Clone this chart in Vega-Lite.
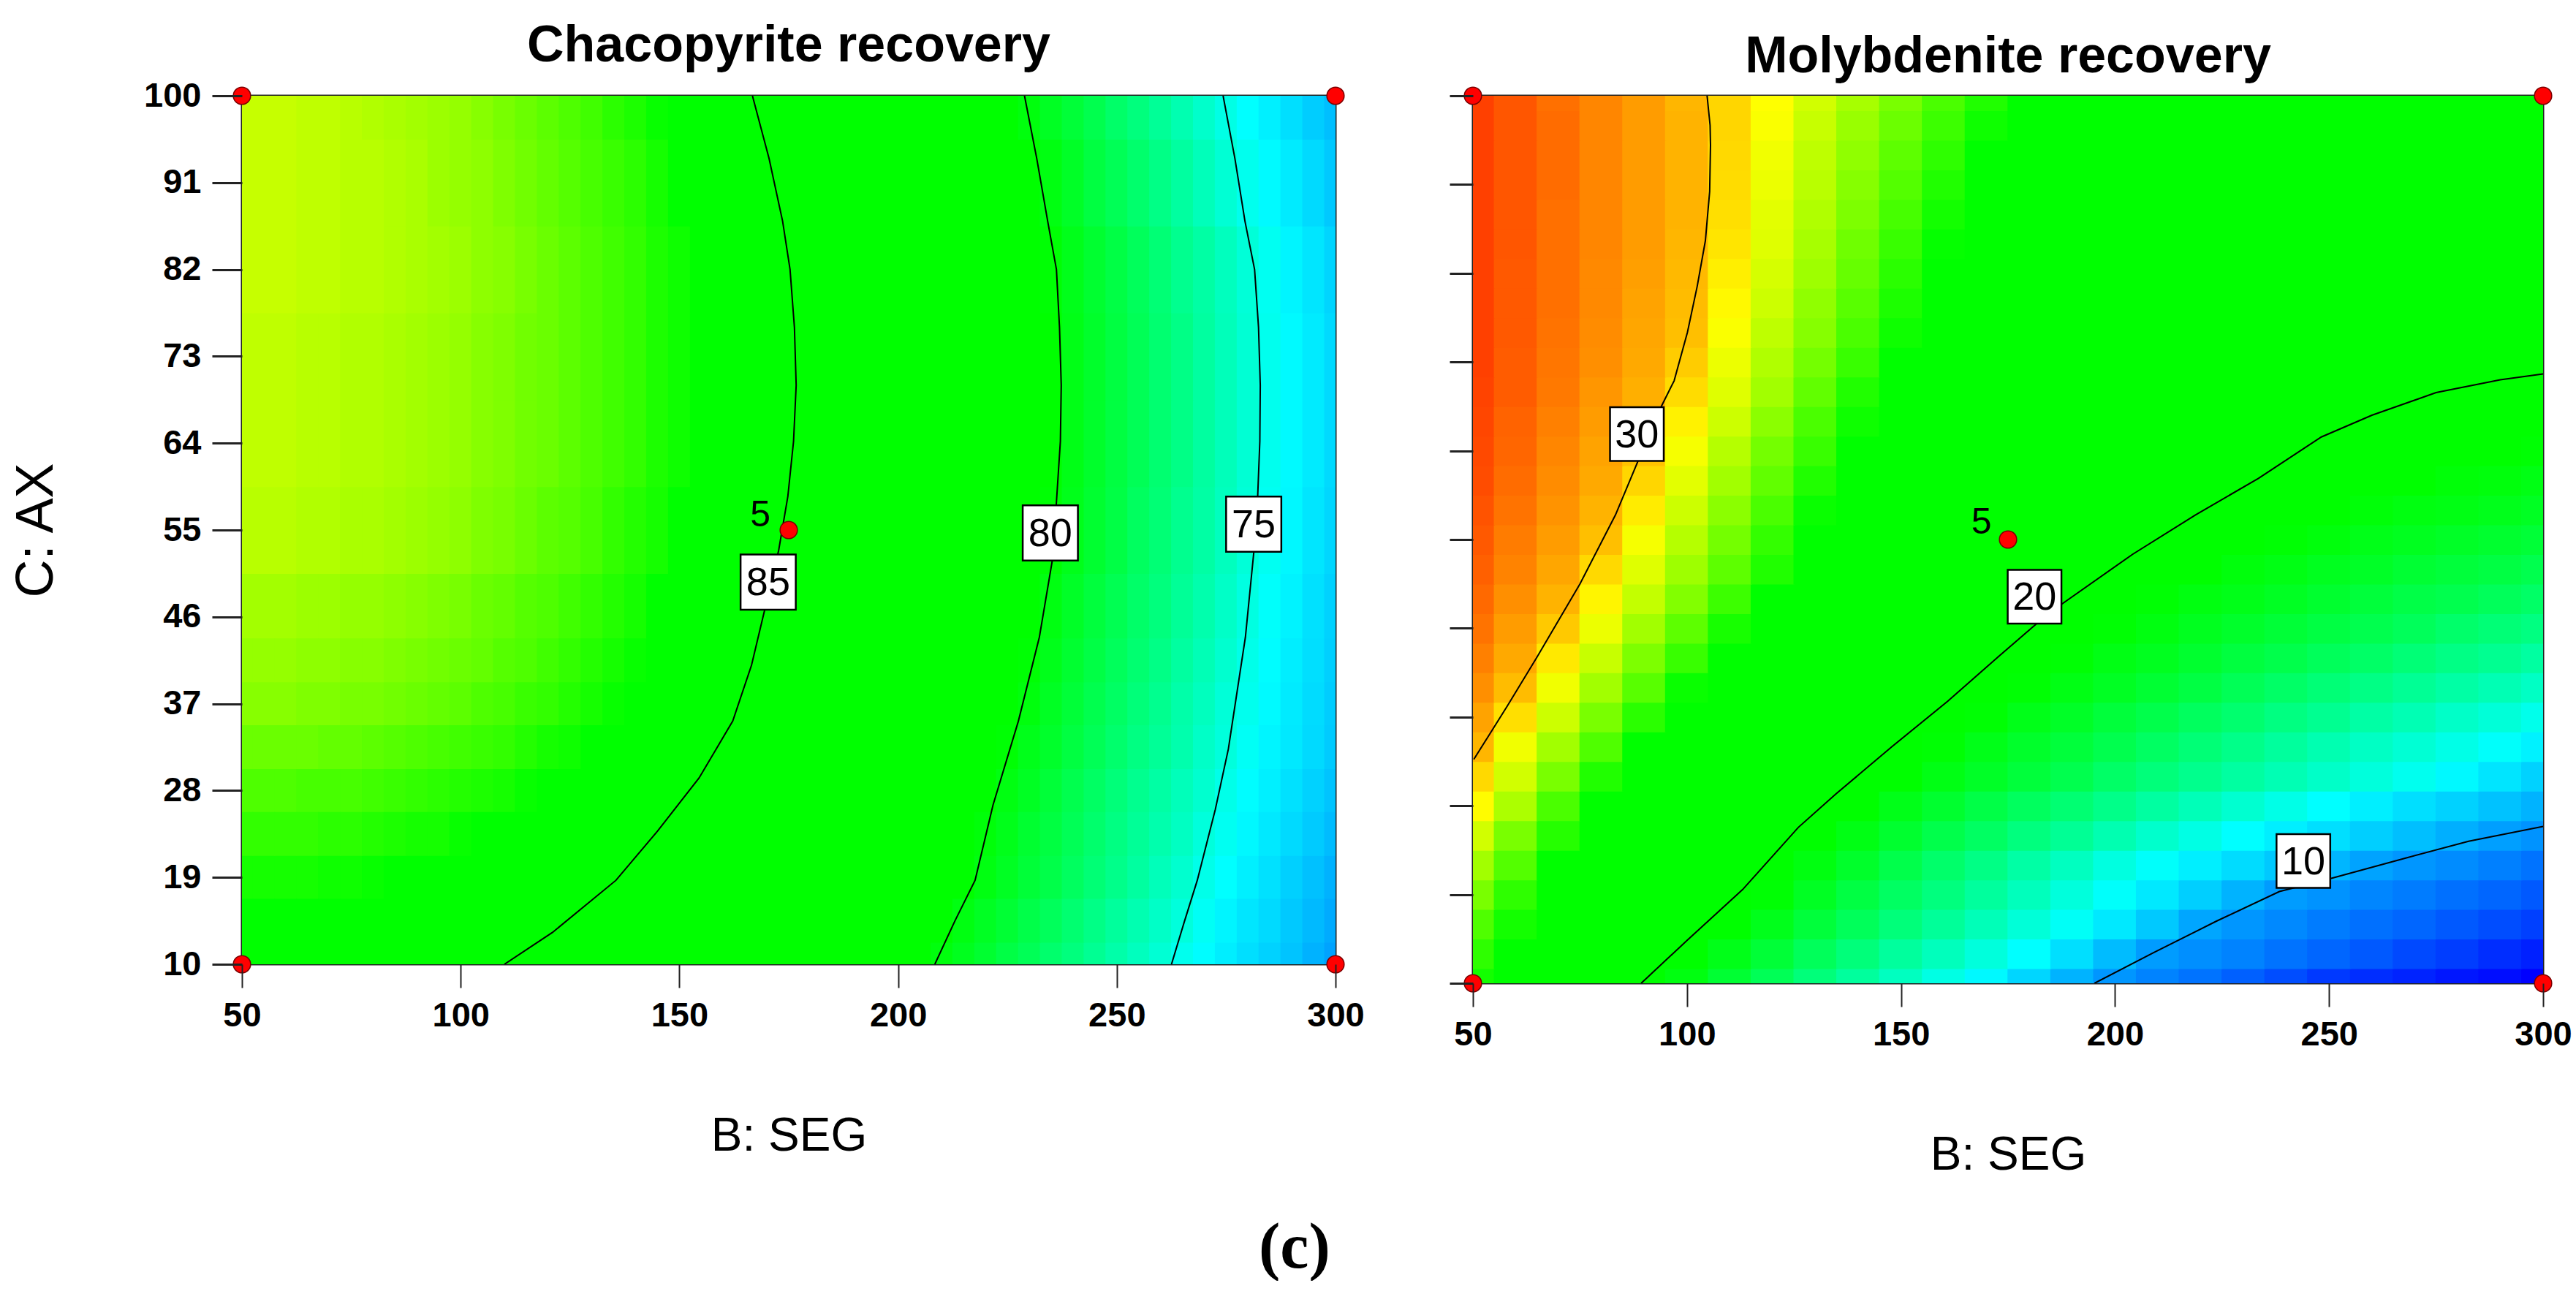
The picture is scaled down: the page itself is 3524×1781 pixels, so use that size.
{
"$schema":"https://vega.github.io/schema/vega-lite/v6.json",
"background":"white",
"padding":{"left":12,"top":26,"right":0,"bottom":0},
"spacing":112,
"resolve":{"scale":{"x":"independent","y":"independent","color":"independent"}},
"title":{"text":"(c)","orient":"bottom","anchor":"middle","font":"Liberation Serif","fontWeight":"bold","fontSize":88,"offset":50,"dx":5,"color":"black"},
"config":{
 "view":{"stroke":"#222","strokeWidth":3},
 "axis":{"grid":false,"domain":false,"labelFont":"Liberation Sans","labelFontWeight":"bold","labelFontSize":47,"labelColor":"black","tickColor":"#222","titleFont":"Liberation Sans","titleFontWeight":"normal","titleColor":"black"},
 "title":{"font":"Liberation Sans","fontWeight":"bold","fontSize":70,"color":"black"}
},
"datasets":{
"L":[
{"b":50,"c":10,"v":85.6},{"b":55,"c":10,"v":85.6},{"b":60,"c":10,"v":85.6},{"b":65,"c":10,"v":85.6},{"b":70,"c":10,"v":85.5},{"b":75,"c":10,"v":85.5},{"b":80,"c":10,"v":85.5},{"b":85,"c":10,"v":85.4},{"b":90,"c":10,"v":85.3},{"b":95,"c":10,"v":85.3},{"b":100,"c":10,"v":85.2},{"b":105,"c":10,"v":85.1},{"b":110,"c":10,"v":85.0},{"b":115,"c":10,"v":84.9},{"b":120,"c":10,"v":84.7},{"b":125,"c":10,"v":84.6},{"b":130,"c":10,"v":84.4},{"b":135,"c":10,"v":84.2},{"b":140,"c":10,"v":84.0},{"b":145,"c":10,"v":83.8},{"b":150,"c":10,"v":83.6},{"b":155,"c":10,"v":83.4},{"b":160,"c":10,"v":83.1},{"b":165,"c":10,"v":82.9},{"b":170,"c":10,"v":82.6},{"b":175,"c":10,"v":82.3},{"b":180,"c":10,"v":82.0},{"b":185,"c":10,"v":81.7},{"b":190,"c":10,"v":81.3},{"b":195,"c":10,"v":81.0},{"b":200,"c":10,"v":80.6},{"b":205,"c":10,"v":80.3},{"b":210,"c":10,"v":79.9},{"b":215,"c":10,"v":79.5},{"b":220,"c":10,"v":79.1},{"b":225,"c":10,"v":78.6},{"b":230,"c":10,"v":78.2},{"b":235,"c":10,"v":77.7},{"b":240,"c":10,"v":77.3},{"b":245,"c":10,"v":76.8},{"b":250,"c":10,"v":76.3},{"b":255,"c":10,"v":75.8},{"b":260,"c":10,"v":75.3},{"b":265,"c":10,"v":74.7},{"b":270,"c":10,"v":74.2},{"b":275,"c":10,"v":73.6},{"b":280,"c":10,"v":73.0},{"b":285,"c":10,"v":72.5},{"b":290,"c":10,"v":71.9},{"b":295,"c":10,"v":71.2},{"b":300,"c":10,"v":70.6},
{"b":50,"c":19,"v":86.6},{"b":55,"c":19,"v":86.6},{"b":60,"c":19,"v":86.6},{"b":65,"c":19,"v":86.6},{"b":70,"c":19,"v":86.5},{"b":75,"c":19,"v":86.5},{"b":80,"c":19,"v":86.4},{"b":85,"c":19,"v":86.3},{"b":90,"c":19,"v":86.3},{"b":95,"c":19,"v":86.2},{"b":100,"c":19,"v":86.1},{"b":105,"c":19,"v":86.0},{"b":110,"c":19,"v":85.8},{"b":115,"c":19,"v":85.7},{"b":120,"c":19,"v":85.5},{"b":125,"c":19,"v":85.4},{"b":130,"c":19,"v":85.2},{"b":135,"c":19,"v":85.0},{"b":140,"c":19,"v":84.9},{"b":145,"c":19,"v":84.6},{"b":150,"c":19,"v":84.4},{"b":155,"c":19,"v":84.2},{"b":160,"c":19,"v":83.9},{"b":165,"c":19,"v":83.7},{"b":170,"c":19,"v":83.4},{"b":175,"c":19,"v":83.1},{"b":180,"c":19,"v":82.8},{"b":185,"c":19,"v":82.5},{"b":190,"c":19,"v":82.1},{"b":195,"c":19,"v":81.8},{"b":200,"c":19,"v":81.4},{"b":205,"c":19,"v":81.0},{"b":210,"c":19,"v":80.6},{"b":215,"c":19,"v":80.2},{"b":220,"c":19,"v":79.8},{"b":225,"c":19,"v":79.4},{"b":230,"c":19,"v":78.9},{"b":235,"c":19,"v":78.5},{"b":240,"c":19,"v":78.0},{"b":245,"c":19,"v":77.5},{"b":250,"c":19,"v":77.0},{"b":255,"c":19,"v":76.5},{"b":260,"c":19,"v":75.9},{"b":265,"c":19,"v":75.4},{"b":270,"c":19,"v":74.8},{"b":275,"c":19,"v":74.3},{"b":280,"c":19,"v":73.7},{"b":285,"c":19,"v":73.1},{"b":290,"c":19,"v":72.4},{"b":295,"c":19,"v":71.8},{"b":300,"c":19,"v":71.2},
{"b":50,"c":28,"v":87.4},{"b":55,"c":28,"v":87.4},{"b":60,"c":28,"v":87.4},{"b":65,"c":28,"v":87.3},{"b":70,"c":28,"v":87.3},{"b":75,"c":28,"v":87.3},{"b":80,"c":28,"v":87.2},{"b":85,"c":28,"v":87.1},{"b":90,"c":28,"v":87.0},{"b":95,"c":28,"v":86.9},{"b":100,"c":28,"v":86.8},{"b":105,"c":28,"v":86.7},{"b":110,"c":28,"v":86.6},{"b":115,"c":28,"v":86.4},{"b":120,"c":28,"v":86.3},{"b":125,"c":28,"v":86.1},{"b":130,"c":28,"v":85.9},{"b":135,"c":28,"v":85.7},{"b":140,"c":28,"v":85.5},{"b":145,"c":28,"v":85.3},{"b":150,"c":28,"v":85.1},{"b":155,"c":28,"v":84.9},{"b":160,"c":28,"v":84.6},{"b":165,"c":28,"v":84.3},{"b":170,"c":28,"v":84.0},{"b":175,"c":28,"v":83.6},{"b":180,"c":28,"v":83.3},{"b":185,"c":28,"v":83.0},{"b":190,"c":28,"v":82.6},{"b":195,"c":28,"v":82.2},{"b":200,"c":28,"v":81.9},{"b":205,"c":28,"v":81.5},{"b":210,"c":28,"v":81.1},{"b":215,"c":28,"v":80.7},{"b":220,"c":28,"v":80.2},{"b":225,"c":28,"v":79.8},{"b":230,"c":28,"v":79.4},{"b":235,"c":28,"v":78.9},{"b":240,"c":28,"v":78.4},{"b":245,"c":28,"v":77.9},{"b":250,"c":28,"v":77.4},{"b":255,"c":28,"v":76.9},{"b":260,"c":28,"v":76.4},{"b":265,"c":28,"v":75.9},{"b":270,"c":28,"v":75.4},{"b":275,"c":28,"v":74.8},{"b":280,"c":28,"v":74.2},{"b":285,"c":28,"v":73.7},{"b":290,"c":28,"v":73.1},{"b":295,"c":28,"v":72.5},{"b":300,"c":28,"v":71.9},
{"b":50,"c":37,"v":88.2},{"b":55,"c":37,"v":88.2},{"b":60,"c":37,"v":88.2},{"b":65,"c":37,"v":88.1},{"b":70,"c":37,"v":88.1},{"b":75,"c":37,"v":88.0},{"b":80,"c":37,"v":88.0},{"b":85,"c":37,"v":87.9},{"b":90,"c":37,"v":87.8},{"b":95,"c":37,"v":87.7},{"b":100,"c":37,"v":87.6},{"b":105,"c":37,"v":87.4},{"b":110,"c":37,"v":87.3},{"b":115,"c":37,"v":87.1},{"b":120,"c":37,"v":87.0},{"b":125,"c":37,"v":86.8},{"b":130,"c":37,"v":86.6},{"b":135,"c":37,"v":86.4},{"b":140,"c":37,"v":86.2},{"b":145,"c":37,"v":86.0},{"b":150,"c":37,"v":85.7},{"b":155,"c":37,"v":85.5},{"b":160,"c":37,"v":85.2},{"b":165,"c":37,"v":84.9},{"b":170,"c":37,"v":84.6},{"b":175,"c":37,"v":84.2},{"b":180,"c":37,"v":83.9},{"b":185,"c":37,"v":83.6},{"b":190,"c":37,"v":83.2},{"b":195,"c":37,"v":82.8},{"b":200,"c":37,"v":82.4},{"b":205,"c":37,"v":82.0},{"b":210,"c":37,"v":81.6},{"b":215,"c":37,"v":81.2},{"b":220,"c":37,"v":80.8},{"b":225,"c":37,"v":80.3},{"b":230,"c":37,"v":79.9},{"b":235,"c":37,"v":79.4},{"b":240,"c":37,"v":78.9},{"b":245,"c":37,"v":78.4},{"b":250,"c":37,"v":77.9},{"b":255,"c":37,"v":77.4},{"b":260,"c":37,"v":76.9},{"b":265,"c":37,"v":76.3},{"b":270,"c":37,"v":75.8},{"b":275,"c":37,"v":75.2},{"b":280,"c":37,"v":74.7},{"b":285,"c":37,"v":74.1},{"b":290,"c":37,"v":73.5},{"b":295,"c":37,"v":72.9},{"b":300,"c":37,"v":72.3},
{"b":50,"c":46,"v":88.6},{"b":55,"c":46,"v":88.6},{"b":60,"c":46,"v":88.6},{"b":65,"c":46,"v":88.5},{"b":70,"c":46,"v":88.5},{"b":75,"c":46,"v":88.4},{"b":80,"c":46,"v":88.4},{"b":85,"c":46,"v":88.3},{"b":90,"c":46,"v":88.2},{"b":95,"c":46,"v":88.1},{"b":100,"c":46,"v":88.0},{"b":105,"c":46,"v":87.8},{"b":110,"c":46,"v":87.7},{"b":115,"c":46,"v":87.5},{"b":120,"c":46,"v":87.4},{"b":125,"c":46,"v":87.2},{"b":130,"c":46,"v":87.0},{"b":135,"c":46,"v":86.8},{"b":140,"c":46,"v":86.6},{"b":145,"c":46,"v":86.3},{"b":150,"c":46,"v":86.1},{"b":155,"c":46,"v":85.8},{"b":160,"c":46,"v":85.5},{"b":165,"c":46,"v":85.3},{"b":170,"c":46,"v":85.0},{"b":175,"c":46,"v":84.6},{"b":180,"c":46,"v":84.3},{"b":185,"c":46,"v":84.0},{"b":190,"c":46,"v":83.6},{"b":195,"c":46,"v":83.2},{"b":200,"c":46,"v":82.9},{"b":205,"c":46,"v":82.5},{"b":210,"c":46,"v":82.1},{"b":215,"c":46,"v":81.6},{"b":220,"c":46,"v":81.2},{"b":225,"c":46,"v":80.8},{"b":230,"c":46,"v":80.3},{"b":235,"c":46,"v":79.8},{"b":240,"c":46,"v":79.3},{"b":245,"c":46,"v":78.8},{"b":250,"c":46,"v":78.3},{"b":255,"c":46,"v":77.8},{"b":260,"c":46,"v":77.3},{"b":265,"c":46,"v":76.7},{"b":270,"c":46,"v":76.2},{"b":275,"c":46,"v":75.6},{"b":280,"c":46,"v":75.0},{"b":285,"c":46,"v":74.4},{"b":290,"c":46,"v":73.8},{"b":295,"c":46,"v":73.1},{"b":300,"c":46,"v":72.5},
{"b":50,"c":55,"v":88.9},{"b":55,"c":55,"v":88.9},{"b":60,"c":55,"v":88.9},{"b":65,"c":55,"v":88.8},{"b":70,"c":55,"v":88.8},{"b":75,"c":55,"v":88.7},{"b":80,"c":55,"v":88.7},{"b":85,"c":55,"v":88.6},{"b":90,"c":55,"v":88.5},{"b":95,"c":55,"v":88.4},{"b":100,"c":55,"v":88.3},{"b":105,"c":55,"v":88.1},{"b":110,"c":55,"v":88.0},{"b":115,"c":55,"v":87.8},{"b":120,"c":55,"v":87.6},{"b":125,"c":55,"v":87.5},{"b":130,"c":55,"v":87.3},{"b":135,"c":55,"v":87.0},{"b":140,"c":55,"v":86.8},{"b":145,"c":55,"v":86.6},{"b":150,"c":55,"v":86.3},{"b":155,"c":55,"v":86.1},{"b":160,"c":55,"v":85.8},{"b":165,"c":55,"v":85.5},{"b":170,"c":55,"v":85.2},{"b":175,"c":55,"v":84.9},{"b":180,"c":55,"v":84.6},{"b":185,"c":55,"v":84.2},{"b":190,"c":55,"v":83.9},{"b":195,"c":55,"v":83.5},{"b":200,"c":55,"v":83.1},{"b":205,"c":55,"v":82.7},{"b":210,"c":55,"v":82.3},{"b":215,"c":55,"v":81.9},{"b":220,"c":55,"v":81.5},{"b":225,"c":55,"v":81.0},{"b":230,"c":55,"v":80.5},{"b":235,"c":55,"v":80.1},{"b":240,"c":55,"v":79.6},{"b":245,"c":55,"v":79.1},{"b":250,"c":55,"v":78.6},{"b":255,"c":55,"v":78.0},{"b":260,"c":55,"v":77.5},{"b":265,"c":55,"v":76.9},{"b":270,"c":55,"v":76.4},{"b":275,"c":55,"v":75.8},{"b":280,"c":55,"v":75.2},{"b":285,"c":55,"v":74.6},{"b":290,"c":55,"v":74.0},{"b":295,"c":55,"v":73.3},{"b":300,"c":55,"v":72.7},
{"b":50,"c":64,"v":89.0},{"b":55,"c":64,"v":89.0},{"b":60,"c":64,"v":89.0},{"b":65,"c":64,"v":88.9},{"b":70,"c":64,"v":88.9},{"b":75,"c":64,"v":88.8},{"b":80,"c":64,"v":88.8},{"b":85,"c":64,"v":88.7},{"b":90,"c":64,"v":88.6},{"b":95,"c":64,"v":88.5},{"b":100,"c":64,"v":88.4},{"b":105,"c":64,"v":88.2},{"b":110,"c":64,"v":88.1},{"b":115,"c":64,"v":87.9},{"b":120,"c":64,"v":87.8},{"b":125,"c":64,"v":87.6},{"b":130,"c":64,"v":87.4},{"b":135,"c":64,"v":87.2},{"b":140,"c":64,"v":87.0},{"b":145,"c":64,"v":86.7},{"b":150,"c":64,"v":86.5},{"b":155,"c":64,"v":86.2},{"b":160,"c":64,"v":86.0},{"b":165,"c":64,"v":85.7},{"b":170,"c":64,"v":85.4},{"b":175,"c":64,"v":85.1},{"b":180,"c":64,"v":84.7},{"b":185,"c":64,"v":84.4},{"b":190,"c":64,"v":84.0},{"b":195,"c":64,"v":83.7},{"b":200,"c":64,"v":83.3},{"b":205,"c":64,"v":82.9},{"b":210,"c":64,"v":82.5},{"b":215,"c":64,"v":82.0},{"b":220,"c":64,"v":81.6},{"b":225,"c":64,"v":81.1},{"b":230,"c":64,"v":80.7},{"b":235,"c":64,"v":80.2},{"b":240,"c":64,"v":79.7},{"b":245,"c":64,"v":79.2},{"b":250,"c":64,"v":78.7},{"b":255,"c":64,"v":78.2},{"b":260,"c":64,"v":77.6},{"b":265,"c":64,"v":77.1},{"b":270,"c":64,"v":76.5},{"b":275,"c":64,"v":75.9},{"b":280,"c":64,"v":75.3},{"b":285,"c":64,"v":74.7},{"b":290,"c":64,"v":74.1},{"b":295,"c":64,"v":73.5},{"b":300,"c":64,"v":72.8},
{"b":50,"c":73,"v":89.0},{"b":55,"c":73,"v":89.0},{"b":60,"c":73,"v":89.0},{"b":65,"c":73,"v":88.9},{"b":70,"c":73,"v":88.9},{"b":75,"c":73,"v":88.8},{"b":80,"c":73,"v":88.8},{"b":85,"c":73,"v":88.7},{"b":90,"c":73,"v":88.6},{"b":95,"c":73,"v":88.5},{"b":100,"c":73,"v":88.4},{"b":105,"c":73,"v":88.2},{"b":110,"c":73,"v":88.1},{"b":115,"c":73,"v":87.9},{"b":120,"c":73,"v":87.8},{"b":125,"c":73,"v":87.6},{"b":130,"c":73,"v":87.4},{"b":135,"c":73,"v":87.2},{"b":140,"c":73,"v":87.0},{"b":145,"c":73,"v":86.7},{"b":150,"c":73,"v":86.5},{"b":155,"c":73,"v":86.2},{"b":160,"c":73,"v":86.0},{"b":165,"c":73,"v":85.7},{"b":170,"c":73,"v":85.4},{"b":175,"c":73,"v":85.1},{"b":180,"c":73,"v":84.8},{"b":185,"c":73,"v":84.4},{"b":190,"c":73,"v":84.1},{"b":195,"c":73,"v":83.7},{"b":200,"c":73,"v":83.3},{"b":205,"c":73,"v":82.9},{"b":210,"c":73,"v":82.5},{"b":215,"c":73,"v":82.1},{"b":220,"c":73,"v":81.6},{"b":225,"c":73,"v":81.2},{"b":230,"c":73,"v":80.7},{"b":235,"c":73,"v":80.2},{"b":240,"c":73,"v":79.7},{"b":245,"c":73,"v":79.2},{"b":250,"c":73,"v":78.7},{"b":255,"c":73,"v":78.2},{"b":260,"c":73,"v":77.6},{"b":265,"c":73,"v":77.1},{"b":270,"c":73,"v":76.5},{"b":275,"c":73,"v":75.9},{"b":280,"c":73,"v":75.3},{"b":285,"c":73,"v":74.7},{"b":290,"c":73,"v":74.1},{"b":295,"c":73,"v":73.5},{"b":300,"c":73,"v":72.8},
{"b":50,"c":82,"v":89.1},{"b":55,"c":82,"v":89.1},{"b":60,"c":82,"v":89.1},{"b":65,"c":82,"v":89.0},{"b":70,"c":82,"v":89.0},{"b":75,"c":82,"v":88.9},{"b":80,"c":82,"v":88.9},{"b":85,"c":82,"v":88.8},{"b":90,"c":82,"v":88.7},{"b":95,"c":82,"v":88.6},{"b":100,"c":82,"v":88.5},{"b":105,"c":82,"v":88.3},{"b":110,"c":82,"v":88.2},{"b":115,"c":82,"v":88.0},{"b":120,"c":82,"v":87.8},{"b":125,"c":82,"v":87.6},{"b":130,"c":82,"v":87.4},{"b":135,"c":82,"v":87.2},{"b":140,"c":82,"v":87.0},{"b":145,"c":82,"v":86.7},{"b":150,"c":82,"v":86.5},{"b":155,"c":82,"v":86.2},{"b":160,"c":82,"v":85.9},{"b":165,"c":82,"v":85.7},{"b":170,"c":82,"v":85.3},{"b":175,"c":82,"v":85.0},{"b":180,"c":82,"v":84.7},{"b":185,"c":82,"v":84.3},{"b":190,"c":82,"v":84.0},{"b":195,"c":82,"v":83.6},{"b":200,"c":82,"v":83.2},{"b":205,"c":82,"v":82.8},{"b":210,"c":82,"v":82.4},{"b":215,"c":82,"v":82.0},{"b":220,"c":82,"v":81.5},{"b":225,"c":82,"v":81.1},{"b":230,"c":82,"v":80.6},{"b":235,"c":82,"v":80.1},{"b":240,"c":82,"v":79.6},{"b":245,"c":82,"v":79.1},{"b":250,"c":82,"v":78.6},{"b":255,"c":82,"v":78.1},{"b":260,"c":82,"v":77.5},{"b":265,"c":82,"v":76.9},{"b":270,"c":82,"v":76.4},{"b":275,"c":82,"v":75.8},{"b":280,"c":82,"v":75.2},{"b":285,"c":82,"v":74.6},{"b":290,"c":82,"v":73.9},{"b":295,"c":82,"v":73.3},{"b":300,"c":82,"v":72.6},
{"b":50,"c":91,"v":89.1},{"b":55,"c":91,"v":89.1},{"b":60,"c":91,"v":89.1},{"b":65,"c":91,"v":89.0},{"b":70,"c":91,"v":89.0},{"b":75,"c":91,"v":88.9},{"b":80,"c":91,"v":88.9},{"b":85,"c":91,"v":88.8},{"b":90,"c":91,"v":88.7},{"b":95,"c":91,"v":88.5},{"b":100,"c":91,"v":88.4},{"b":105,"c":91,"v":88.3},{"b":110,"c":91,"v":88.1},{"b":115,"c":91,"v":87.9},{"b":120,"c":91,"v":87.7},{"b":125,"c":91,"v":87.5},{"b":130,"c":91,"v":87.3},{"b":135,"c":91,"v":87.1},{"b":140,"c":91,"v":86.9},{"b":145,"c":91,"v":86.6},{"b":150,"c":91,"v":86.3},{"b":155,"c":91,"v":86.0},{"b":160,"c":91,"v":85.7},{"b":165,"c":91,"v":85.4},{"b":170,"c":91,"v":85.1},{"b":175,"c":91,"v":84.8},{"b":180,"c":91,"v":84.4},{"b":185,"c":91,"v":84.1},{"b":190,"c":91,"v":83.7},{"b":195,"c":91,"v":83.3},{"b":200,"c":91,"v":82.9},{"b":205,"c":91,"v":82.5},{"b":210,"c":91,"v":82.1},{"b":215,"c":91,"v":81.6},{"b":220,"c":91,"v":81.2},{"b":225,"c":91,"v":80.7},{"b":230,"c":91,"v":80.3},{"b":235,"c":91,"v":79.8},{"b":240,"c":91,"v":79.3},{"b":245,"c":91,"v":78.7},{"b":250,"c":91,"v":78.2},{"b":255,"c":91,"v":77.7},{"b":260,"c":91,"v":77.1},{"b":265,"c":91,"v":76.5},{"b":270,"c":91,"v":75.9},{"b":275,"c":91,"v":75.3},{"b":280,"c":91,"v":74.7},{"b":285,"c":91,"v":74.1},{"b":290,"c":91,"v":73.5},{"b":295,"c":91,"v":72.8},{"b":300,"c":91,"v":72.1},
{"b":50,"c":100,"v":89.1},{"b":55,"c":100,"v":89.1},{"b":60,"c":100,"v":89.1},{"b":65,"c":100,"v":89.0},{"b":70,"c":100,"v":89.0},{"b":75,"c":100,"v":88.9},{"b":80,"c":100,"v":88.8},{"b":85,"c":100,"v":88.7},{"b":90,"c":100,"v":88.6},{"b":95,"c":100,"v":88.5},{"b":100,"c":100,"v":88.4},{"b":105,"c":100,"v":88.2},{"b":110,"c":100,"v":88.0},{"b":115,"c":100,"v":87.8},{"b":120,"c":100,"v":87.6},{"b":125,"c":100,"v":87.4},{"b":130,"c":100,"v":87.2},{"b":135,"c":100,"v":86.9},{"b":140,"c":100,"v":86.7},{"b":145,"c":100,"v":86.4},{"b":150,"c":100,"v":86.1},{"b":155,"c":100,"v":85.8},{"b":160,"c":100,"v":85.5},{"b":165,"c":100,"v":85.1},{"b":170,"c":100,"v":84.8},{"b":175,"c":100,"v":84.5},{"b":180,"c":100,"v":84.1},{"b":185,"c":100,"v":83.8},{"b":190,"c":100,"v":83.4},{"b":195,"c":100,"v":83.0},{"b":200,"c":100,"v":82.6},{"b":205,"c":100,"v":82.2},{"b":210,"c":100,"v":81.7},{"b":215,"c":100,"v":81.3},{"b":220,"c":100,"v":80.8},{"b":225,"c":100,"v":80.4},{"b":230,"c":100,"v":79.9},{"b":235,"c":100,"v":79.4},{"b":240,"c":100,"v":78.9},{"b":245,"c":100,"v":78.4},{"b":250,"c":100,"v":77.8},{"b":255,"c":100,"v":77.3},{"b":260,"c":100,"v":76.7},{"b":265,"c":100,"v":76.1},{"b":270,"c":100,"v":75.5},{"b":275,"c":100,"v":74.9},{"b":280,"c":100,"v":74.3},{"b":285,"c":100,"v":73.7},{"b":290,"c":100,"v":73.0},{"b":295,"c":100,"v":72.3},{"b":300,"c":100,"v":71.7}
],
"L2":[
{"b":50,"c":14.5,"v":86.1},{"b":55,"c":14.5,"v":86.1},{"b":60,"c":14.5,"v":86.1},{"b":65,"c":14.5,"v":86.1},{"b":70,"c":14.5,"v":86.0},{"b":75,"c":14.5,"v":86.0},{"b":80,"c":14.5,"v":85.9},{"b":85,"c":14.5,"v":85.9},{"b":90,"c":14.5,"v":85.8},{"b":95,"c":14.5,"v":85.7},{"b":100,"c":14.5,"v":85.6},{"b":105,"c":14.5,"v":85.5},{"b":110,"c":14.5,"v":85.4},{"b":115,"c":14.5,"v":85.3},{"b":120,"c":14.5,"v":85.1},{"b":125,"c":14.5,"v":85.0},{"b":130,"c":14.5,"v":84.8},{"b":135,"c":14.5,"v":84.6},{"b":140,"c":14.5,"v":84.4},{"b":145,"c":14.5,"v":84.2},{"b":150,"c":14.5,"v":84.0},{"b":155,"c":14.5,"v":83.8},{"b":160,"c":14.5,"v":83.5},{"b":165,"c":14.5,"v":83.2},{"b":170,"c":14.5,"v":83.0},{"b":175,"c":14.5,"v":82.7},{"b":180,"c":14.5,"v":82.4},{"b":185,"c":14.5,"v":82.0},{"b":190,"c":14.5,"v":81.7},{"b":195,"c":14.5,"v":81.4},{"b":200,"c":14.5,"v":81.0},{"b":205,"c":14.5,"v":80.6},{"b":210,"c":14.5,"v":80.2},{"b":215,"c":14.5,"v":79.8},{"b":220,"c":14.5,"v":79.4},{"b":225,"c":14.5,"v":79.0},{"b":230,"c":14.5,"v":78.5},{"b":235,"c":14.5,"v":78.1},{"b":240,"c":14.5,"v":77.6},{"b":245,"c":14.5,"v":77.1},{"b":250,"c":14.5,"v":76.6},{"b":255,"c":14.5,"v":76.1},{"b":260,"c":14.5,"v":75.6},{"b":265,"c":14.5,"v":75.1},{"b":270,"c":14.5,"v":74.5},{"b":275,"c":14.5,"v":73.9},{"b":280,"c":14.5,"v":73.3},{"b":285,"c":14.5,"v":72.8},{"b":290,"c":14.5,"v":72.1},{"b":295,"c":14.5,"v":71.5},{"b":300,"c":14.5,"v":70.9},
{"b":50,"c":23.5,"v":87.0},{"b":55,"c":23.5,"v":87.0},{"b":60,"c":23.5,"v":87.0},{"b":65,"c":23.5,"v":87.0},{"b":70,"c":23.5,"v":86.9},{"b":75,"c":23.5,"v":86.9},{"b":80,"c":23.5,"v":86.8},{"b":85,"c":23.5,"v":86.7},{"b":90,"c":23.5,"v":86.6},{"b":95,"c":23.5,"v":86.6},{"b":100,"c":23.5,"v":86.4},{"b":105,"c":23.5,"v":86.3},{"b":110,"c":23.5,"v":86.2},{"b":115,"c":23.5,"v":86.1},{"b":120,"c":23.5,"v":85.9},{"b":125,"c":23.5,"v":85.7},{"b":130,"c":23.5,"v":85.6},{"b":135,"c":23.5,"v":85.4},{"b":140,"c":23.5,"v":85.2},{"b":145,"c":23.5,"v":85.0},{"b":150,"c":23.5,"v":84.7},{"b":155,"c":23.5,"v":84.5},{"b":160,"c":23.5,"v":84.2},{"b":165,"c":23.5,"v":83.9},{"b":170,"c":23.5,"v":83.6},{"b":175,"c":23.5,"v":83.3},{"b":180,"c":23.5,"v":83.0},{"b":185,"c":23.5,"v":82.7},{"b":190,"c":23.5,"v":82.3},{"b":195,"c":23.5,"v":82.0},{"b":200,"c":23.5,"v":81.6},{"b":205,"c":23.5,"v":81.2},{"b":210,"c":23.5,"v":80.8},{"b":215,"c":23.5,"v":80.4},{"b":220,"c":23.5,"v":80.0},{"b":225,"c":23.5,"v":79.6},{"b":230,"c":23.5,"v":79.1},{"b":235,"c":23.5,"v":78.7},{"b":240,"c":23.5,"v":78.2},{"b":245,"c":23.5,"v":77.7},{"b":250,"c":23.5,"v":77.2},{"b":255,"c":23.5,"v":76.7},{"b":260,"c":23.5,"v":76.2},{"b":265,"c":23.5,"v":75.7},{"b":270,"c":23.5,"v":75.1},{"b":275,"c":23.5,"v":74.6},{"b":280,"c":23.5,"v":74.0},{"b":285,"c":23.5,"v":73.4},{"b":290,"c":23.5,"v":72.8},{"b":295,"c":23.5,"v":72.2},{"b":300,"c":23.5,"v":71.6},
{"b":50,"c":32.5,"v":87.8},{"b":55,"c":32.5,"v":87.8},{"b":60,"c":32.5,"v":87.8},{"b":65,"c":32.5,"v":87.8},{"b":70,"c":32.5,"v":87.7},{"b":75,"c":32.5,"v":87.7},{"b":80,"c":32.5,"v":87.6},{"b":85,"c":32.5,"v":87.5},{"b":90,"c":32.5,"v":87.4},{"b":95,"c":32.5,"v":87.3},{"b":100,"c":32.5,"v":87.2},{"b":105,"c":32.5,"v":87.1},{"b":110,"c":32.5,"v":87.0},{"b":115,"c":32.5,"v":86.8},{"b":120,"c":32.5,"v":86.6},{"b":125,"c":32.5,"v":86.5},{"b":130,"c":32.5,"v":86.3},{"b":135,"c":32.5,"v":86.1},{"b":140,"c":32.5,"v":85.9},{"b":145,"c":32.5,"v":85.7},{"b":150,"c":32.5,"v":85.4},{"b":155,"c":32.5,"v":85.2},{"b":160,"c":32.5,"v":84.9},{"b":165,"c":32.5,"v":84.6},{"b":170,"c":32.5,"v":84.3},{"b":175,"c":32.5,"v":84.0},{"b":180,"c":32.5,"v":83.6},{"b":185,"c":32.5,"v":83.3},{"b":190,"c":32.5,"v":82.9},{"b":195,"c":32.5,"v":82.5},{"b":200,"c":32.5,"v":82.2},{"b":205,"c":32.5,"v":81.8},{"b":210,"c":32.5,"v":81.4},{"b":215,"c":32.5,"v":80.9},{"b":220,"c":32.5,"v":80.5},{"b":225,"c":32.5,"v":80.1},{"b":230,"c":32.5,"v":79.6},{"b":235,"c":32.5,"v":79.2},{"b":240,"c":32.5,"v":78.7},{"b":245,"c":32.5,"v":78.2},{"b":250,"c":32.5,"v":77.7},{"b":255,"c":32.5,"v":77.2},{"b":260,"c":32.5,"v":76.7},{"b":265,"c":32.5,"v":76.2},{"b":270,"c":32.5,"v":75.6},{"b":275,"c":32.5,"v":75.1},{"b":280,"c":32.5,"v":74.5},{"b":285,"c":32.5,"v":73.9},{"b":290,"c":32.5,"v":73.4},{"b":295,"c":32.5,"v":72.8},{"b":300,"c":32.5,"v":72.2},
{"b":50,"c":41.5,"v":88.4},{"b":55,"c":41.5,"v":88.4},{"b":60,"c":41.5,"v":88.4},{"b":65,"c":41.5,"v":88.3},{"b":70,"c":41.5,"v":88.3},{"b":75,"c":41.5,"v":88.2},{"b":80,"c":41.5,"v":88.2},{"b":85,"c":41.5,"v":88.1},{"b":90,"c":41.5,"v":88.0},{"b":95,"c":41.5,"v":87.9},{"b":100,"c":41.5,"v":87.8},{"b":105,"c":41.5,"v":87.7},{"b":110,"c":41.5,"v":87.5},{"b":115,"c":41.5,"v":87.4},{"b":120,"c":41.5,"v":87.2},{"b":125,"c":41.5,"v":87.0},{"b":130,"c":41.5,"v":86.8},{"b":135,"c":41.5,"v":86.6},{"b":140,"c":41.5,"v":86.4},{"b":145,"c":41.5,"v":86.2},{"b":150,"c":41.5,"v":85.9},{"b":155,"c":41.5,"v":85.7},{"b":160,"c":41.5,"v":85.4},{"b":165,"c":41.5,"v":85.1},{"b":170,"c":41.5,"v":84.8},{"b":175,"c":41.5,"v":84.5},{"b":180,"c":41.5,"v":84.1},{"b":185,"c":41.5,"v":83.8},{"b":190,"c":41.5,"v":83.4},{"b":195,"c":41.5,"v":83.1},{"b":200,"c":41.5,"v":82.7},{"b":205,"c":41.5,"v":82.3},{"b":210,"c":41.5,"v":81.9},{"b":215,"c":41.5,"v":81.4},{"b":220,"c":41.5,"v":81.0},{"b":225,"c":41.5,"v":80.6},{"b":230,"c":41.5,"v":80.1},{"b":235,"c":41.5,"v":79.6},{"b":240,"c":41.5,"v":79.1},{"b":245,"c":41.5,"v":78.6},{"b":250,"c":41.5,"v":78.1},{"b":255,"c":41.5,"v":77.6},{"b":260,"c":41.5,"v":77.1},{"b":265,"c":41.5,"v":76.5},{"b":270,"c":41.5,"v":76.0},{"b":275,"c":41.5,"v":75.4},{"b":280,"c":41.5,"v":74.8},{"b":285,"c":41.5,"v":74.2},{"b":290,"c":41.5,"v":73.6},{"b":295,"c":41.5,"v":73.0},{"b":300,"c":41.5,"v":72.4}
],
"R":[
{"b":50,"c":10,"v":22.9},{"b":60,"c":10,"v":22.3},{"b":70,"c":10,"v":21.5},{"b":80,"c":10,"v":20.7},{"b":90,"c":10,"v":19.9},{"b":100,"c":10,"v":19.1},{"b":110,"c":10,"v":18.2},{"b":120,"c":10,"v":17.3},{"b":130,"c":10,"v":16.4},{"b":140,"c":10,"v":15.5},{"b":150,"c":10,"v":14.6},{"b":160,"c":10,"v":13.7},{"b":170,"c":10,"v":12.8},{"b":180,"c":10,"v":11.7},{"b":190,"c":10,"v":10.6},{"b":200,"c":10,"v":9.7},{"b":210,"c":10,"v":9.1},{"b":220,"c":10,"v":8.6},{"b":230,"c":10,"v":8.0},{"b":240,"c":10,"v":7.4},{"b":250,"c":10,"v":6.8},{"b":260,"c":10,"v":6.4},{"b":270,"c":10,"v":6.1},{"b":280,"c":10,"v":5.7},{"b":290,"c":10,"v":5.4},{"b":300,"c":10,"v":5.0},
{"b":50,"c":13,"v":23.5},{"b":60,"c":13,"v":22.5},{"b":70,"c":13,"v":21.8},{"b":80,"c":13,"v":21.1},{"b":90,"c":13,"v":20.5},{"b":100,"c":13,"v":19.7},{"b":110,"c":13,"v":18.9},{"b":120,"c":13,"v":18.1},{"b":130,"c":13,"v":17.2},{"b":140,"c":13,"v":16.4},{"b":150,"c":13,"v":15.5},{"b":160,"c":13,"v":14.7},{"b":170,"c":13,"v":13.9},{"b":180,"c":13,"v":13.0},{"b":190,"c":13,"v":12.0},{"b":200,"c":13,"v":10.9},{"b":210,"c":13,"v":9.9},{"b":220,"c":13,"v":9.5},{"b":230,"c":13,"v":9.1},{"b":240,"c":13,"v":8.6},{"b":250,"c":13,"v":8.2},{"b":260,"c":13,"v":7.8},{"b":270,"c":13,"v":7.3},{"b":280,"c":13,"v":6.9},{"b":290,"c":13,"v":6.4},{"b":300,"c":13,"v":6.0},
{"b":50,"c":16,"v":24.2},{"b":60,"c":16,"v":22.9},{"b":70,"c":16,"v":22.1},{"b":80,"c":16,"v":21.5},{"b":90,"c":16,"v":20.9},{"b":100,"c":16,"v":20.3},{"b":110,"c":16,"v":19.5},{"b":120,"c":16,"v":18.8},{"b":130,"c":16,"v":18.0},{"b":140,"c":16,"v":17.2},{"b":150,"c":16,"v":16.4},{"b":160,"c":16,"v":15.6},{"b":170,"c":16,"v":14.8},{"b":180,"c":16,"v":14.0},{"b":190,"c":16,"v":13.2},{"b":200,"c":16,"v":12.3},{"b":210,"c":16,"v":11.3},{"b":220,"c":16,"v":10.2},{"b":230,"c":16,"v":9.7},{"b":240,"c":16,"v":9.3},{"b":250,"c":16,"v":8.9},{"b":260,"c":16,"v":8.5},{"b":270,"c":16,"v":8.2},{"b":280,"c":16,"v":7.8},{"b":290,"c":16,"v":7.4},{"b":300,"c":16,"v":7.0},
{"b":50,"c":19,"v":25.1},{"b":60,"c":19,"v":23.5},{"b":70,"c":19,"v":22.3},{"b":80,"c":19,"v":21.8},{"b":90,"c":19,"v":21.2},{"b":100,"c":19,"v":20.7},{"b":110,"c":19,"v":20.1},{"b":120,"c":19,"v":19.4},{"b":130,"c":19,"v":18.6},{"b":140,"c":19,"v":17.8},{"b":150,"c":19,"v":17.0},{"b":160,"c":19,"v":16.3},{"b":170,"c":19,"v":15.5},{"b":180,"c":19,"v":14.7},{"b":190,"c":19,"v":13.9},{"b":200,"c":19,"v":13.1},{"b":210,"c":19,"v":12.3},{"b":220,"c":19,"v":11.5},{"b":230,"c":19,"v":10.6},{"b":240,"c":19,"v":9.9},{"b":250,"c":19,"v":9.6},{"b":260,"c":19,"v":9.2},{"b":270,"c":19,"v":8.9},{"b":280,"c":19,"v":8.5},{"b":290,"c":19,"v":8.2},{"b":300,"c":19,"v":7.8},
{"b":50,"c":22,"v":26.0},{"b":60,"c":22,"v":24.3},{"b":70,"c":22,"v":22.5},{"b":80,"c":22,"v":22.0},{"b":90,"c":22,"v":21.5},{"b":100,"c":22,"v":20.9},{"b":110,"c":22,"v":20.4},{"b":120,"c":22,"v":19.9},{"b":130,"c":22,"v":19.1},{"b":140,"c":22,"v":18.4},{"b":150,"c":22,"v":17.6},{"b":160,"c":22,"v":16.8},{"b":170,"c":22,"v":16.1},{"b":180,"c":22,"v":15.3},{"b":190,"c":22,"v":14.6},{"b":200,"c":22,"v":13.8},{"b":210,"c":22,"v":13.1},{"b":220,"c":22,"v":12.5},{"b":230,"c":22,"v":11.9},{"b":240,"c":22,"v":11.3},{"b":250,"c":22,"v":10.7},{"b":260,"c":22,"v":10.1},{"b":270,"c":22,"v":9.7},{"b":280,"c":22,"v":9.4},{"b":290,"c":22,"v":9.0},{"b":300,"c":22,"v":8.6},
{"b":50,"c":25,"v":27.0},{"b":60,"c":25,"v":25.1},{"b":70,"c":25,"v":23.3},{"b":80,"c":25,"v":22.2},{"b":90,"c":25,"v":21.7},{"b":100,"c":25,"v":21.2},{"b":110,"c":25,"v":20.7},{"b":120,"c":25,"v":20.2},{"b":130,"c":25,"v":19.6},{"b":140,"c":25,"v":19.0},{"b":150,"c":25,"v":18.3},{"b":160,"c":25,"v":17.6},{"b":170,"c":25,"v":17.0},{"b":180,"c":25,"v":16.3},{"b":190,"c":25,"v":15.7},{"b":200,"c":25,"v":15.0},{"b":210,"c":25,"v":14.3},{"b":220,"c":25,"v":13.7},{"b":230,"c":25,"v":13.0},{"b":240,"c":25,"v":12.5},{"b":250,"c":25,"v":12.0},{"b":260,"c":25,"v":11.5},{"b":270,"c":25,"v":11.0},{"b":280,"c":25,"v":10.5},{"b":290,"c":25,"v":10.0},{"b":300,"c":25,"v":9.6},
{"b":50,"c":28,"v":28.1},{"b":60,"c":28,"v":26.2},{"b":70,"c":28,"v":24.1},{"b":80,"c":28,"v":22.4},{"b":90,"c":28,"v":21.9},{"b":100,"c":28,"v":21.5},{"b":110,"c":28,"v":21.0},{"b":120,"c":28,"v":20.6},{"b":130,"c":28,"v":20.1},{"b":140,"c":28,"v":19.5},{"b":150,"c":28,"v":18.9},{"b":160,"c":28,"v":18.3},{"b":170,"c":28,"v":17.7},{"b":180,"c":28,"v":17.1},{"b":190,"c":28,"v":16.6},{"b":200,"c":28,"v":16.0},{"b":210,"c":28,"v":15.4},{"b":220,"c":28,"v":14.8},{"b":230,"c":28,"v":14.2},{"b":240,"c":28,"v":13.6},{"b":250,"c":28,"v":13.0},{"b":260,"c":28,"v":12.5},{"b":270,"c":28,"v":12.0},{"b":280,"c":28,"v":11.6},{"b":290,"c":28,"v":11.1},{"b":300,"c":28,"v":10.6},
{"b":50,"c":31,"v":29.2},{"b":60,"c":31,"v":27.0},{"b":70,"c":31,"v":25.1},{"b":80,"c":31,"v":23.2},{"b":90,"c":31,"v":22.2},{"b":100,"c":31,"v":21.8},{"b":110,"c":31,"v":21.3},{"b":120,"c":31,"v":20.9},{"b":130,"c":31,"v":20.4},{"b":140,"c":31,"v":20.0},{"b":150,"c":31,"v":19.5},{"b":160,"c":31,"v":19.0},{"b":170,"c":31,"v":18.5},{"b":180,"c":31,"v":18.0},{"b":190,"c":31,"v":17.5},{"b":200,"c":31,"v":16.9},{"b":210,"c":31,"v":16.4},{"b":220,"c":31,"v":15.9},{"b":230,"c":31,"v":15.4},{"b":240,"c":31,"v":14.9},{"b":250,"c":31,"v":14.4},{"b":260,"c":31,"v":13.9},{"b":270,"c":31,"v":13.4},{"b":280,"c":31,"v":12.8},{"b":290,"c":31,"v":12.2},{"b":300,"c":31,"v":11.6},
{"b":50,"c":34,"v":30.3},{"b":60,"c":34,"v":27.7},{"b":70,"c":34,"v":26.0},{"b":80,"c":34,"v":24.2},{"b":90,"c":34,"v":22.5},{"b":100,"c":34,"v":22.1},{"b":110,"c":34,"v":21.6},{"b":120,"c":34,"v":21.2},{"b":130,"c":34,"v":20.8},{"b":140,"c":34,"v":20.3},{"b":150,"c":34,"v":19.9},{"b":160,"c":34,"v":19.4},{"b":170,"c":34,"v":18.9},{"b":180,"c":34,"v":18.4},{"b":190,"c":34,"v":18.0},{"b":200,"c":34,"v":17.5},{"b":210,"c":34,"v":17.0},{"b":220,"c":34,"v":16.5},{"b":230,"c":34,"v":16.0},{"b":240,"c":34,"v":15.5},{"b":250,"c":34,"v":15.0},{"b":260,"c":34,"v":14.5},{"b":270,"c":34,"v":14.1},{"b":280,"c":34,"v":13.6},{"b":290,"c":34,"v":13.1},{"b":300,"c":34,"v":12.6},
{"b":50,"c":37,"v":30.9},{"b":60,"c":37,"v":29.0},{"b":70,"c":37,"v":26.9},{"b":80,"c":37,"v":25.1},{"b":90,"c":37,"v":23.4},{"b":100,"c":37,"v":22.3},{"b":110,"c":37,"v":21.9},{"b":120,"c":37,"v":21.5},{"b":130,"c":37,"v":21.1},{"b":140,"c":37,"v":20.7},{"b":150,"c":37,"v":20.3},{"b":160,"c":37,"v":19.8},{"b":170,"c":37,"v":19.4},{"b":180,"c":37,"v":18.9},{"b":190,"c":37,"v":18.5},{"b":200,"c":37,"v":18.0},{"b":210,"c":37,"v":17.6},{"b":220,"c":37,"v":17.1},{"b":230,"c":37,"v":16.7},{"b":240,"c":37,"v":16.2},{"b":250,"c":37,"v":15.8},{"b":260,"c":37,"v":15.3},{"b":270,"c":37,"v":14.9},{"b":280,"c":37,"v":14.4},{"b":290,"c":37,"v":14.0},{"b":300,"c":37,"v":13.5},
{"b":50,"c":40,"v":31.5},{"b":60,"c":40,"v":30.1},{"b":70,"c":40,"v":27.7},{"b":80,"c":40,"v":26.0},{"b":90,"c":40,"v":24.4},{"b":100,"c":40,"v":22.7},{"b":110,"c":40,"v":22.2},{"b":120,"c":40,"v":21.8},{"b":130,"c":40,"v":21.4},{"b":140,"c":40,"v":21.0},{"b":150,"c":40,"v":20.6},{"b":160,"c":40,"v":20.2},{"b":170,"c":40,"v":19.8},{"b":180,"c":40,"v":19.4},{"b":190,"c":40,"v":19.0},{"b":200,"c":40,"v":18.6},{"b":210,"c":40,"v":18.2},{"b":220,"c":40,"v":17.8},{"b":230,"c":40,"v":17.3},{"b":240,"c":40,"v":16.9},{"b":250,"c":40,"v":16.5},{"b":260,"c":40,"v":16.1},{"b":270,"c":40,"v":15.7},{"b":280,"c":40,"v":15.3},{"b":290,"c":40,"v":14.9},{"b":300,"c":40,"v":14.5},
{"b":50,"c":43,"v":32.0},{"b":60,"c":43,"v":30.7},{"b":70,"c":43,"v":28.7},{"b":80,"c":43,"v":26.8},{"b":90,"c":43,"v":25.2},{"b":100,"c":43,"v":23.7},{"b":110,"c":43,"v":22.4},{"b":120,"c":43,"v":22.0},{"b":130,"c":43,"v":21.6},{"b":140,"c":43,"v":21.2},{"b":150,"c":43,"v":20.9},{"b":160,"c":43,"v":20.5},{"b":170,"c":43,"v":20.1},{"b":180,"c":43,"v":19.7},{"b":190,"c":43,"v":19.4},{"b":200,"c":43,"v":19.0},{"b":210,"c":43,"v":18.7},{"b":220,"c":43,"v":18.3},{"b":230,"c":43,"v":17.9},{"b":240,"c":43,"v":17.6},{"b":250,"c":43,"v":17.2},{"b":260,"c":43,"v":16.9},{"b":270,"c":43,"v":16.5},{"b":280,"c":43,"v":16.1},{"b":290,"c":43,"v":15.8},{"b":300,"c":43,"v":15.4},
{"b":50,"c":46,"v":32.4},{"b":60,"c":46,"v":31.1},{"b":70,"c":46,"v":29.7},{"b":80,"c":46,"v":27.6},{"b":90,"c":46,"v":26.0},{"b":100,"c":46,"v":24.5},{"b":110,"c":46,"v":23.0},{"b":120,"c":46,"v":22.3},{"b":130,"c":46,"v":21.9},{"b":140,"c":46,"v":21.5},{"b":150,"c":46,"v":21.1},{"b":160,"c":46,"v":20.8},{"b":170,"c":46,"v":20.4},{"b":180,"c":46,"v":20.0},{"b":190,"c":46,"v":19.7},{"b":200,"c":46,"v":19.4},{"b":210,"c":46,"v":19.1},{"b":220,"c":46,"v":18.7},{"b":230,"c":46,"v":18.4},{"b":240,"c":46,"v":18.1},{"b":250,"c":46,"v":17.8},{"b":260,"c":46,"v":17.5},{"b":270,"c":46,"v":17.2},{"b":280,"c":46,"v":16.8},{"b":290,"c":46,"v":16.5},{"b":300,"c":46,"v":16.2},
{"b":50,"c":49,"v":32.7},{"b":60,"c":49,"v":31.5},{"b":70,"c":49,"v":30.4},{"b":80,"c":49,"v":28.3},{"b":90,"c":49,"v":26.7},{"b":100,"c":49,"v":25.3},{"b":110,"c":49,"v":23.8},{"b":120,"c":49,"v":22.5},{"b":130,"c":49,"v":22.1},{"b":140,"c":49,"v":21.8},{"b":150,"c":49,"v":21.4},{"b":160,"c":49,"v":21.0},{"b":170,"c":49,"v":20.7},{"b":180,"c":49,"v":20.3},{"b":190,"c":49,"v":20.0},{"b":200,"c":49,"v":19.7},{"b":210,"c":49,"v":19.4},{"b":220,"c":49,"v":19.1},{"b":230,"c":49,"v":18.9},{"b":240,"c":49,"v":18.6},{"b":250,"c":49,"v":18.3},{"b":260,"c":49,"v":18.0},{"b":270,"c":49,"v":17.7},{"b":280,"c":49,"v":17.5},{"b":290,"c":49,"v":17.2},{"b":300,"c":49,"v":16.9},
{"b":50,"c":52,"v":33.0},{"b":60,"c":52,"v":31.9},{"b":70,"c":52,"v":30.8},{"b":80,"c":52,"v":29.2},{"b":90,"c":52,"v":27.3},{"b":100,"c":52,"v":25.9},{"b":110,"c":52,"v":24.5},{"b":120,"c":52,"v":23.2},{"b":130,"c":52,"v":22.3},{"b":140,"c":52,"v":22.0},{"b":150,"c":52,"v":21.7},{"b":160,"c":52,"v":21.3},{"b":170,"c":52,"v":21.0},{"b":180,"c":52,"v":20.7},{"b":190,"c":52,"v":20.3},{"b":200,"c":52,"v":20.0},{"b":210,"c":52,"v":19.7},{"b":220,"c":52,"v":19.5},{"b":230,"c":52,"v":19.2},{"b":240,"c":52,"v":19.0},{"b":250,"c":52,"v":18.7},{"b":260,"c":52,"v":18.5},{"b":270,"c":52,"v":18.2},{"b":280,"c":52,"v":18.0},{"b":290,"c":52,"v":17.8},{"b":300,"c":52,"v":17.5},
{"b":50,"c":55,"v":33.2},{"b":60,"c":55,"v":32.1},{"b":70,"c":55,"v":31.1},{"b":80,"c":55,"v":30.0},{"b":90,"c":55,"v":27.8},{"b":100,"c":55,"v":26.4},{"b":110,"c":55,"v":25.0},{"b":120,"c":55,"v":23.6},{"b":130,"c":55,"v":22.4},{"b":140,"c":55,"v":22.1},{"b":150,"c":55,"v":21.8},{"b":160,"c":55,"v":21.5},{"b":170,"c":55,"v":21.2},{"b":180,"c":55,"v":20.9},{"b":190,"c":55,"v":20.6},{"b":200,"c":55,"v":20.3},{"b":210,"c":55,"v":20.0},{"b":220,"c":55,"v":19.8},{"b":230,"c":55,"v":19.6},{"b":240,"c":55,"v":19.4},{"b":250,"c":55,"v":19.2},{"b":260,"c":55,"v":18.9},{"b":270,"c":55,"v":18.7},{"b":280,"c":55,"v":18.5},{"b":290,"c":55,"v":18.3},{"b":300,"c":55,"v":18.1},
{"b":50,"c":58,"v":33.4},{"b":60,"c":58,"v":32.4},{"b":70,"c":58,"v":31.4},{"b":80,"c":58,"v":30.4},{"b":90,"c":58,"v":28.6},{"b":100,"c":58,"v":26.9},{"b":110,"c":58,"v":25.5},{"b":120,"c":58,"v":24.1},{"b":130,"c":58,"v":22.7},{"b":140,"c":58,"v":22.3},{"b":150,"c":58,"v":22.0},{"b":160,"c":58,"v":21.7},{"b":170,"c":58,"v":21.4},{"b":180,"c":58,"v":21.1},{"b":190,"c":58,"v":20.9},{"b":200,"c":58,"v":20.6},{"b":210,"c":58,"v":20.3},{"b":220,"c":58,"v":20.0},{"b":230,"c":58,"v":19.8},{"b":240,"c":58,"v":19.7},{"b":250,"c":58,"v":19.5},{"b":260,"c":58,"v":19.3},{"b":270,"c":58,"v":19.1},{"b":280,"c":58,"v":19.0},{"b":290,"c":58,"v":18.8},{"b":300,"c":58,"v":18.6},
{"b":50,"c":61,"v":33.6},{"b":60,"c":61,"v":32.6},{"b":70,"c":61,"v":31.6},{"b":80,"c":61,"v":30.7},{"b":90,"c":61,"v":29.3},{"b":100,"c":61,"v":27.4},{"b":110,"c":61,"v":26.0},{"b":120,"c":61,"v":24.6},{"b":130,"c":61,"v":23.2},{"b":140,"c":61,"v":22.4},{"b":150,"c":61,"v":22.1},{"b":160,"c":61,"v":21.9},{"b":170,"c":61,"v":21.6},{"b":180,"c":61,"v":21.4},{"b":190,"c":61,"v":21.1},{"b":200,"c":61,"v":20.8},{"b":210,"c":61,"v":20.6},{"b":220,"c":61,"v":20.3},{"b":230,"c":61,"v":20.1},{"b":240,"c":61,"v":19.9},{"b":250,"c":61,"v":19.7},{"b":260,"c":61,"v":19.6},{"b":270,"c":61,"v":19.5},{"b":280,"c":61,"v":19.3},{"b":290,"c":61,"v":19.2},{"b":300,"c":61,"v":19.0},
{"b":50,"c":64,"v":33.7},{"b":60,"c":64,"v":32.8},{"b":70,"c":64,"v":31.8},{"b":80,"c":64,"v":30.9},{"b":90,"c":64,"v":29.9},{"b":100,"c":64,"v":27.8},{"b":110,"c":64,"v":26.4},{"b":120,"c":64,"v":25.0},{"b":130,"c":64,"v":23.7},{"b":140,"c":64,"v":22.5},{"b":150,"c":64,"v":22.2},{"b":160,"c":64,"v":22.0},{"b":170,"c":64,"v":21.8},{"b":180,"c":64,"v":21.5},{"b":190,"c":64,"v":21.3},{"b":200,"c":64,"v":21.0},{"b":210,"c":64,"v":20.8},{"b":220,"c":64,"v":20.6},{"b":230,"c":64,"v":20.3},{"b":240,"c":64,"v":20.1},{"b":250,"c":64,"v":19.9},{"b":260,"c":64,"v":19.8},{"b":270,"c":64,"v":19.7},{"b":280,"c":64,"v":19.6},{"b":290,"c":64,"v":19.5},{"b":300,"c":64,"v":19.4},
{"b":50,"c":67,"v":33.8},{"b":60,"c":67,"v":32.9},{"b":70,"c":67,"v":32.0},{"b":80,"c":67,"v":31.1},{"b":90,"c":67,"v":30.2},{"b":100,"c":67,"v":28.4},{"b":110,"c":67,"v":26.9},{"b":120,"c":67,"v":25.5},{"b":130,"c":67,"v":24.1},{"b":140,"c":67,"v":22.8},{"b":150,"c":67,"v":22.3},{"b":160,"c":67,"v":22.1},{"b":170,"c":67,"v":21.9},{"b":180,"c":67,"v":21.7},{"b":190,"c":67,"v":21.5},{"b":200,"c":67,"v":21.2},{"b":210,"c":67,"v":21.0},{"b":220,"c":67,"v":20.8},{"b":230,"c":67,"v":20.6},{"b":240,"c":67,"v":20.4},{"b":250,"c":67,"v":20.2},{"b":260,"c":67,"v":20.0},{"b":270,"c":67,"v":19.9},{"b":280,"c":67,"v":19.8},{"b":290,"c":67,"v":19.8},{"b":300,"c":67,"v":19.7},
{"b":50,"c":70,"v":33.9},{"b":60,"c":70,"v":33.1},{"b":70,"c":70,"v":32.2},{"b":80,"c":70,"v":31.3},{"b":90,"c":70,"v":30.5},{"b":100,"c":70,"v":29.1},{"b":110,"c":70,"v":27.3},{"b":120,"c":70,"v":26.0},{"b":130,"c":70,"v":24.6},{"b":140,"c":70,"v":23.2},{"b":150,"c":70,"v":22.4},{"b":160,"c":70,"v":22.2},{"b":170,"c":70,"v":22.0},{"b":180,"c":70,"v":21.8},{"b":190,"c":70,"v":21.7},{"b":200,"c":70,"v":21.5},{"b":210,"c":70,"v":21.3},{"b":220,"c":70,"v":21.1},{"b":230,"c":70,"v":20.9},{"b":240,"c":70,"v":20.7},{"b":250,"c":70,"v":20.5},{"b":260,"c":70,"v":20.3},{"b":270,"c":70,"v":20.1},{"b":280,"c":70,"v":20.0},{"b":290,"c":70,"v":19.9},{"b":300,"c":70,"v":19.9},
{"b":50,"c":73,"v":34.0},{"b":60,"c":73,"v":33.1},{"b":70,"c":73,"v":32.3},{"b":80,"c":73,"v":31.5},{"b":90,"c":73,"v":30.7},{"b":100,"c":73,"v":29.6},{"b":110,"c":73,"v":27.6},{"b":120,"c":73,"v":26.3},{"b":130,"c":73,"v":25.0},{"b":140,"c":73,"v":23.7},{"b":150,"c":73,"v":22.5},{"b":160,"c":73,"v":22.3},{"b":170,"c":73,"v":22.2},{"b":180,"c":73,"v":22.0},{"b":190,"c":73,"v":21.8},{"b":200,"c":73,"v":21.7},{"b":210,"c":73,"v":21.5},{"b":220,"c":73,"v":21.4},{"b":230,"c":73,"v":21.2},{"b":240,"c":73,"v":21.1},{"b":250,"c":73,"v":20.9},{"b":260,"c":73,"v":20.7},{"b":270,"c":73,"v":20.6},{"b":280,"c":73,"v":20.4},{"b":290,"c":73,"v":20.3},{"b":300,"c":73,"v":20.1},
{"b":50,"c":76,"v":34.0},{"b":60,"c":76,"v":33.2},{"b":70,"c":76,"v":32.4},{"b":80,"c":76,"v":31.6},{"b":90,"c":76,"v":30.8},{"b":100,"c":76,"v":30.0},{"b":110,"c":76,"v":27.9},{"b":120,"c":76,"v":26.6},{"b":130,"c":76,"v":25.4},{"b":140,"c":76,"v":24.1},{"b":150,"c":76,"v":22.8},{"b":160,"c":76,"v":22.4},{"b":170,"c":76,"v":22.2},{"b":180,"c":76,"v":22.1},{"b":190,"c":76,"v":21.9},{"b":200,"c":76,"v":21.8},{"b":210,"c":76,"v":21.6},{"b":220,"c":76,"v":21.5},{"b":230,"c":76,"v":21.3},{"b":240,"c":76,"v":21.2},{"b":250,"c":76,"v":21.0},{"b":260,"c":76,"v":20.9},{"b":270,"c":76,"v":20.8},{"b":280,"c":76,"v":20.6},{"b":290,"c":76,"v":20.5},{"b":300,"c":76,"v":20.3},
{"b":50,"c":79,"v":34.0},{"b":60,"c":79,"v":33.2},{"b":70,"c":79,"v":32.5},{"b":80,"c":79,"v":31.7},{"b":90,"c":79,"v":30.9},{"b":100,"c":79,"v":30.1},{"b":110,"c":79,"v":28.2},{"b":120,"c":79,"v":26.9},{"b":130,"c":79,"v":25.6},{"b":140,"c":79,"v":24.4},{"b":150,"c":79,"v":23.1},{"b":160,"c":79,"v":22.4},{"b":170,"c":79,"v":22.3},{"b":180,"c":79,"v":22.2},{"b":190,"c":79,"v":22.0},{"b":200,"c":79,"v":21.9},{"b":210,"c":79,"v":21.7},{"b":220,"c":79,"v":21.6},{"b":230,"c":79,"v":21.5},{"b":240,"c":79,"v":21.3},{"b":250,"c":79,"v":21.2},{"b":260,"c":79,"v":21.1},{"b":270,"c":79,"v":20.9},{"b":280,"c":79,"v":20.8},{"b":290,"c":79,"v":20.6},{"b":300,"c":79,"v":20.5},
{"b":50,"c":82,"v":34.0},{"b":60,"c":82,"v":33.2},{"b":70,"c":82,"v":32.5},{"b":80,"c":82,"v":31.7},{"b":90,"c":82,"v":31.0},{"b":100,"c":82,"v":30.2},{"b":110,"c":82,"v":28.5},{"b":120,"c":82,"v":27.1},{"b":130,"c":82,"v":25.9},{"b":140,"c":82,"v":24.7},{"b":150,"c":82,"v":23.4},{"b":160,"c":82,"v":22.5},{"b":170,"c":82,"v":22.3},{"b":180,"c":82,"v":22.2},{"b":190,"c":82,"v":22.1},{"b":200,"c":82,"v":22.0},{"b":210,"c":82,"v":21.8},{"b":220,"c":82,"v":21.7},{"b":230,"c":82,"v":21.6},{"b":240,"c":82,"v":21.5},{"b":250,"c":82,"v":21.3},{"b":260,"c":82,"v":21.2},{"b":270,"c":82,"v":21.1},{"b":280,"c":82,"v":21.0},{"b":290,"c":82,"v":20.8},{"b":300,"c":82,"v":20.7},
{"b":50,"c":85,"v":34.0},{"b":60,"c":85,"v":33.3},{"b":70,"c":85,"v":32.5},{"b":80,"c":85,"v":31.8},{"b":90,"c":85,"v":31.1},{"b":100,"c":85,"v":30.3},{"b":110,"c":85,"v":28.8},{"b":120,"c":85,"v":27.3},{"b":130,"c":85,"v":26.1},{"b":140,"c":85,"v":24.9},{"b":150,"c":85,"v":23.7},{"b":160,"c":85,"v":22.6},{"b":170,"c":85,"v":22.4},{"b":180,"c":85,"v":22.3},{"b":190,"c":85,"v":22.2},{"b":200,"c":85,"v":22.0},{"b":210,"c":85,"v":21.9},{"b":220,"c":85,"v":21.8},{"b":230,"c":85,"v":21.7},{"b":240,"c":85,"v":21.6},{"b":250,"c":85,"v":21.4},{"b":260,"c":85,"v":21.3},{"b":270,"c":85,"v":21.2},{"b":280,"c":85,"v":21.1},{"b":290,"c":85,"v":21.0},{"b":300,"c":85,"v":20.9},
{"b":50,"c":88,"v":34.0},{"b":60,"c":88,"v":33.3},{"b":70,"c":88,"v":32.5},{"b":80,"c":88,"v":31.8},{"b":90,"c":88,"v":31.1},{"b":100,"c":88,"v":30.4},{"b":110,"c":88,"v":29.0},{"b":120,"c":88,"v":27.4},{"b":130,"c":88,"v":26.3},{"b":140,"c":88,"v":25.2},{"b":150,"c":88,"v":24.0},{"b":160,"c":88,"v":22.9},{"b":170,"c":88,"v":22.4},{"b":180,"c":88,"v":22.3},{"b":190,"c":88,"v":22.2},{"b":200,"c":88,"v":22.1},{"b":210,"c":88,"v":22.0},{"b":220,"c":88,"v":21.9},{"b":230,"c":88,"v":21.8},{"b":240,"c":88,"v":21.7},{"b":250,"c":88,"v":21.6},{"b":260,"c":88,"v":21.4},{"b":270,"c":88,"v":21.3},{"b":280,"c":88,"v":21.2},{"b":290,"c":88,"v":21.1},{"b":300,"c":88,"v":21.0},
{"b":50,"c":91,"v":34.0},{"b":60,"c":91,"v":33.3},{"b":70,"c":91,"v":32.6},{"b":80,"c":91,"v":31.8},{"b":90,"c":91,"v":31.1},{"b":100,"c":91,"v":30.4},{"b":110,"c":91,"v":29.1},{"b":120,"c":91,"v":27.6},{"b":130,"c":91,"v":26.5},{"b":140,"c":91,"v":25.4},{"b":150,"c":91,"v":24.3},{"b":160,"c":91,"v":23.2},{"b":170,"c":91,"v":22.5},{"b":180,"c":91,"v":22.4},{"b":190,"c":91,"v":22.3},{"b":200,"c":91,"v":22.2},{"b":210,"c":91,"v":22.1},{"b":220,"c":91,"v":22.0},{"b":230,"c":91,"v":21.9},{"b":240,"c":91,"v":21.8},{"b":250,"c":91,"v":21.7},{"b":260,"c":91,"v":21.6},{"b":270,"c":91,"v":21.5},{"b":280,"c":91,"v":21.4},{"b":290,"c":91,"v":21.3},{"b":300,"c":91,"v":21.2},
{"b":50,"c":94,"v":34.0},{"b":60,"c":94,"v":33.3},{"b":70,"c":94,"v":32.6},{"b":80,"c":94,"v":31.8},{"b":90,"c":94,"v":31.1},{"b":100,"c":94,"v":30.4},{"b":110,"c":94,"v":29.2},{"b":120,"c":94,"v":27.7},{"b":130,"c":94,"v":26.6},{"b":140,"c":94,"v":25.6},{"b":150,"c":94,"v":24.5},{"b":160,"c":94,"v":23.5},{"b":170,"c":94,"v":22.5},{"b":180,"c":94,"v":22.4},{"b":190,"c":94,"v":22.3},{"b":200,"c":94,"v":22.2},{"b":210,"c":94,"v":22.1},{"b":220,"c":94,"v":22.0},{"b":230,"c":94,"v":21.9},{"b":240,"c":94,"v":21.9},{"b":250,"c":94,"v":21.8},{"b":260,"c":94,"v":21.7},{"b":270,"c":94,"v":21.6},{"b":280,"c":94,"v":21.5},{"b":290,"c":94,"v":21.4},{"b":300,"c":94,"v":21.3},
{"b":50,"c":97,"v":34.0},{"b":60,"c":97,"v":33.3},{"b":70,"c":97,"v":32.6},{"b":80,"c":97,"v":31.8},{"b":90,"c":97,"v":31.1},{"b":100,"c":97,"v":30.4},{"b":110,"c":97,"v":29.3},{"b":120,"c":97,"v":27.9},{"b":130,"c":97,"v":26.8},{"b":140,"c":97,"v":25.8},{"b":150,"c":97,"v":24.8},{"b":160,"c":97,"v":23.8},{"b":170,"c":97,"v":22.8},{"b":180,"c":97,"v":22.4},{"b":190,"c":97,"v":22.4},{"b":200,"c":97,"v":22.3},{"b":210,"c":97,"v":22.2},{"b":220,"c":97,"v":22.1},{"b":230,"c":97,"v":22.0},{"b":240,"c":97,"v":21.9},{"b":250,"c":97,"v":21.8},{"b":260,"c":97,"v":21.8},{"b":270,"c":97,"v":21.7},{"b":280,"c":97,"v":21.6},{"b":290,"c":97,"v":21.5},{"b":300,"c":97,"v":21.4},
{"b":50,"c":100,"v":34.0},{"b":60,"c":100,"v":33.3},{"b":70,"c":100,"v":32.5},{"b":80,"c":100,"v":31.8},{"b":90,"c":100,"v":31.1},{"b":100,"c":100,"v":30.3},{"b":110,"c":100,"v":29.3},{"b":120,"c":100,"v":28.0},{"b":130,"c":100,"v":27.0},{"b":140,"c":100,"v":26.1},{"b":150,"c":100,"v":25.1},{"b":160,"c":100,"v":24.1},{"b":170,"c":100,"v":23.2},{"b":180,"c":100,"v":22.5},{"b":190,"c":100,"v":22.4},{"b":200,"c":100,"v":22.3},{"b":210,"c":100,"v":22.2},{"b":220,"c":100,"v":22.2},{"b":230,"c":100,"v":22.1},{"b":240,"c":100,"v":22.0},{"b":250,"c":100,"v":21.9},{"b":260,"c":100,"v":21.8},{"b":270,"c":100,"v":21.7},{"b":280,"c":100,"v":21.7},{"b":290,"c":100,"v":21.6},{"b":300,"c":100,"v":21.5}
],
"Lc":[
{"lv":85,"b":110,"c":10},{"lv":85,"b":121,"c":13.3},{"lv":85,"b":135.5,"c":18.7},{"lv":85,"b":145,"c":23.8},{"lv":85,"b":154.5,"c":29.3},{"lv":85,"b":162.2,"c":35.2},{"lv":85,"b":166.5,"c":41},{"lv":85,"b":169.7,"c":47.1},{"lv":85,"b":172.7,"c":52.9},{"lv":85,"b":174.8,"c":58.5},{"lv":85,"b":176.1,"c":64.2},{"lv":85,"b":176.7,"c":70},{"lv":85,"b":176.3,"c":76},{"lv":85,"b":175.3,"c":82},{"lv":85,"b":173.6,"c":87},{"lv":85,"b":170.5,"c":93.5},{"lv":85,"b":166.7,"c":100},
{"lv":80,"b":208.4,"c":10},{"lv":80,"b":213,"c":14.5},{"lv":80,"b":217.6,"c":18.7},{"lv":80,"b":221.7,"c":26.5},{"lv":80,"b":227.5,"c":35.2},{"lv":80,"b":232.3,"c":43.9},{"lv":80,"b":235.2,"c":51.7},{"lv":80,"b":236.1,"c":57.2},{"lv":80,"b":237.1,"c":64.2},{"lv":80,"b":237.3,"c":70},{"lv":80,"b":236.9,"c":76},{"lv":80,"b":236.2,"c":82},{"lv":80,"b":234.2,"c":87},{"lv":80,"b":231.7,"c":93.5},{"lv":80,"b":228.9,"c":100},
{"lv":75,"b":262.5,"c":10},{"lv":75,"b":265.5,"c":14.5},{"lv":75,"b":268.4,"c":18.7},{"lv":75,"b":272.5,"c":26},{"lv":75,"b":275.5,"c":32.3},{"lv":75,"b":279.4,"c":43.9},{"lv":75,"b":281.3,"c":52.6},{"lv":75,"b":282.2,"c":58.4},{"lv":75,"b":282.7,"c":64.2},{"lv":75,"b":282.8,"c":70},{"lv":75,"b":282.4,"c":76},{"lv":75,"b":281.5,"c":82},{"lv":75,"b":279.3,"c":87},{"lv":75,"b":277,"c":93.5},{"lv":75,"b":274.3,"c":100}
],
"Rc":[
{"lv":30,"b":50.2,"c":32.7},{"lv":30,"b":58,"c":38.1},{"lv":30,"b":65,"c":43.1},{"lv":30,"b":75,"c":50.5},{"lv":30,"b":83.3,"c":57.5},{"lv":30,"b":88.6,"c":63},{"lv":30,"b":93.9,"c":68.4},{"lv":30,"b":97,"c":71.1},{"lv":30,"b":100.1,"c":76},{"lv":30,"b":102.4,"c":80.7},{"lv":30,"b":104.3,"c":85.3},{"lv":30,"b":105.3,"c":90.3},{"lv":30,"b":105.5,"c":95},{"lv":30,"b":105.4,"c":97},{"lv":30,"b":104.7,"c":100},
{"lv":20,"b":89.3,"c":10},{"lv":20,"b":99.9,"c":14.3},{"lv":20,"b":113,"c":19.5},{"lv":20,"b":126,"c":25.8},{"lv":20,"b":134.8,"c":29.2},{"lv":20,"b":147.9,"c":34},{"lv":20,"b":160.9,"c":38.6},{"lv":20,"b":172.7,"c":43.1},{"lv":20,"b":181.5,"c":46.4},{"lv":20,"b":187.4,"c":48.4},{"lv":20,"b":204.1,"c":53.5},{"lv":20,"b":218.8,"c":57.5},{"lv":20,"b":233.5,"c":61.2},{"lv":20,"b":248.2,"c":65.4},{"lv":20,"b":260,"c":67.6},{"lv":20,"b":275,"c":69.9},{"lv":20,"b":290,"c":71.2},{"lv":20,"b":300,"c":71.8},
{"lv":10,"b":195.2,"c":10},{"lv":10,"b":209,"c":13.1},{"lv":10,"b":223.7,"c":16.3},{"lv":10,"b":238.4,"c":19.3},{"lv":10,"b":250.2,"c":20.6},{"lv":10,"b":267.9,"c":22.7},{"lv":10,"b":282.6,"c":24.4},{"lv":10,"b":300,"c":25.9}
],
"Lb":[{"lv":"85","b":170.3,"c":49.6},{"lv":"80","b":234.8,"c":54.7},{"lv":"75","b":281.3,"c":55.6}],
"Rb":[{"lv":"30","b":88.3,"c":65.7},{"lv":"20","b":181.2,"c":49.2},{"lv":"10","b":244,"c":22.4}],
"P":[{"b":50,"c":10},{"b":50,"c":100},{"b":300,"c":10},{"b":300,"c":100},{"b":175,"c":55}],
"L5":[{"t":"5","b":168.5,"c":56.5}],
"R5":[{"t":"5","b":168.8,"c":56.7}]
},
"hconcat":[
{
 "width":1496,"height":1188,
 "title":{"text":"Chacopyrite recovery","offset":8},
 "encoding":{
  "x":{"field":"b","type":"quantitative","scale":{"domain":[50,300],"nice":false,"zero":false},
   "axis":{"title":"B: SEG","values":[50,100,150,200,250,300],"tickSize":32,"tickWidth":2,"labelPadding":15,"labelFlush":false,"titleFontSize":64,"titlePadding":110,"zindex":1}},
  "y":{"field":"c","type":"quantitative","scale":{"domain":[10,100],"nice":false,"zero":false},
   "axis":{"title":"C: AX","values":[10,19,28,37,46,55,64,73,82,91,100],"tickSize":41,"tickWidth":3,"labelPadding":15,"labelFlush":false,"titleFontSize":72,"titlePadding":110,"zindex":1}}
 },
 "layer":[
  {"data":{"name":"L"},"mark":{"type":"point","filled":true,"opacity":1,"strokeWidth":0,"shape":"M-0.2583,-1H0.2583V1H-0.2583Z","size":14400,"clip":true},
   "encoding":{"color":{"field":"v","type":"quantitative","scale":{"domain":[64,74.3,80.2,86.3,89.9,95],"range":["#0000ff","#00ffff","#00ff00","#00ff00","#ffff00","#ff0000"],"interpolate":"rgb"},"legend":null}}},
  {"data":{"name":"L2"},"mark":{"type":"point","filled":true,"opacity":1,"strokeWidth":0,"shape":"M-0.5167,-1H0.5167V1H-0.5167Z","size":3600,"clip":true},
   "encoding":{"color":{"field":"v","type":"quantitative","legend":null}}},
  {"data":{"name":"Lc"},"mark":{"type":"line","color":"black","strokeWidth":2,"clip":true},
   "encoding":{"detail":{"field":"lv","type":"nominal"},"order":{"field":"c","type":"quantitative"}}},
  {"data":{"name":"Lb"},"mark":{"type":"point","shape":"square","size":5700,"filled":true,"fill":"white","stroke":"black","strokeWidth":2.5,"opacity":1}},
  {"data":{"name":"Lb"},"mark":{"type":"text","font":"Liberation Sans","fontSize":54,"fill":"black","baseline":"middle","align":"center","dy":2},
   "encoding":{"text":{"field":"lv","type":"nominal"}}},
  {"data":{"name":"P"},"mark":{"type":"point","shape":"circle","size":560,"filled":true,"fill":"#ff0000","stroke":"#7a0000","strokeWidth":1.5,"opacity":1}},
  {"data":{"name":"L5"},"mark":{"type":"text","font":"Liberation Sans","fontSize":50,"fill":"black","baseline":"middle","align":"center"},
   "encoding":{"text":{"field":"t","type":"nominal"}}}
 ]
},
{
 "width":1464,"height":1214,
 "title":{"text":"Molybdenite recovery","offset":2},
 "encoding":{
  "x":{"field":"b","type":"quantitative","scale":{"domain":[50,300],"nice":false,"zero":false},
   "axis":{"title":"B: SEG","values":[50,100,150,200,250,300],"tickSize":32,"tickWidth":2,"labelPadding":15,"labelFlush":false,"titleFontSize":64,"titlePadding":110,"zindex":1}},
  "y":{"field":"c","type":"quantitative","scale":{"domain":[10,100],"nice":false,"zero":false},
   "axis":{"title":null,"labels":false,"values":[10,19,28,37,46,55,64,73,82,91,100],"tickSize":32,"tickWidth":3,"zindex":1}}
 },
 "layer":[
  {"data":{"name":"R"},"mark":{"type":"point","filled":true,"opacity":1,"strokeWidth":0,"shape":"M-1,-0.7H1V0.7H-1Z","size":3600,"clip":true},
   "encoding":{"color":{"field":"v","type":"quantitative","scale":{"domain":[5,13,19.5,22.5,28,36],"range":["#0000ff","#00ffff","#00ff00","#00ff00","#ffff00","#ff0000"],"interpolate":"rgb"},"legend":null}}},
  {"data":{"name":"Rc"},"mark":{"type":"line","color":"black","strokeWidth":2,"clip":true},
   "encoding":{"detail":{"field":"lv","type":"nominal"},"order":{"field":"c","type":"quantitative"}}},
  {"data":{"name":"Rb"},"mark":{"type":"point","shape":"square","size":5400,"filled":true,"fill":"white","stroke":"black","strokeWidth":2.5,"opacity":1}},
  {"data":{"name":"Rb"},"mark":{"type":"text","font":"Liberation Sans","fontSize":54,"fill":"black","baseline":"middle","align":"center","dy":2},
   "encoding":{"text":{"field":"lv","type":"nominal"}}},
  {"data":{"name":"P"},"mark":{"type":"point","shape":"circle","size":560,"filled":true,"fill":"#ff0000","stroke":"#7a0000","strokeWidth":1.5,"opacity":1}},
  {"data":{"name":"R5"},"mark":{"type":"text","font":"Liberation Sans","fontSize":50,"fill":"black","baseline":"middle","align":"center"},
   "encoding":{"text":{"field":"t","type":"nominal"}}}
 ]
}
]
}
